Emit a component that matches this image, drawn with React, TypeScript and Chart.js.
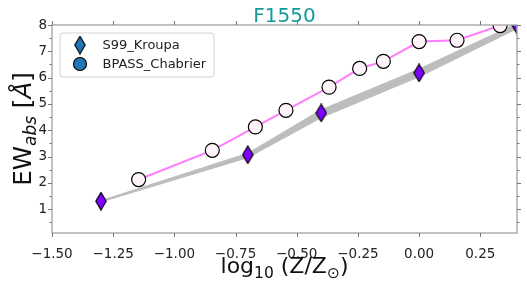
import React, { useEffect, useRef } from "react";
import { Chart, registerables } from "chart.js";

Chart.register(...registerables);

// ---- data ----
const xTicks = [-1.5, -1.25, -1.0, -0.75, -0.5, -0.25, 0.0, 0.25];
const yTicks = [1, 2, 3, 4, 5, 6, 7, 8];
const yMinorTicks = [0.5, 1.5, 2.5, 3.5, 4.5, 5.5, 6.5, 7.5];

const s99Z = [-1.3, -0.7, -0.4, 0.0, 0.4];
const s99EW = [1.31, 3.07, 4.66, 6.18, 8.0];
const s99Upper = [1.33, 3.13, 4.78, 6.33, 8.06];
const s99Lower = [1.28, 2.96, 4.48, 6.03, 7.86];

const bpassZ = [-1.146, -0.845, -0.669, -0.544, -0.368, -0.243, -0.146, 0.0, 0.155, 0.331];
const bpassEW = [2.13, 3.24, 4.13, 4.76, 5.64, 6.35, 6.62, 7.37, 7.42, 7.98];

const X_MIN = -1.5;
const X_MAX = 0.4;
const Y_MIN = 0.1;
const Y_MAX = 8.0;

const FONT = "'DejaVu Sans', sans-serif";

function makeDiamond(fill: string): HTMLCanvasElement {
  const w = 12;
  const h = 19;
  const c = document.createElement("canvas");
  c.width = w;
  c.height = h;
  const ctx = c.getContext("2d")!;
  ctx.beginPath();
  ctx.moveTo(w / 2, 0.8);
  ctx.lineTo(w - 0.8, h / 2);
  ctx.lineTo(w / 2, h - 0.8);
  ctx.lineTo(0.8, h / 2);
  ctx.closePath();
  ctx.fillStyle = fill;
  ctx.fill();
  ctx.lineWidth = 1.2;
  ctx.strokeStyle = "#000";
  ctx.stroke();
  return c;
}

type Seg = { t: string; size: number; dy: number; italic?: boolean };

function drawSegs(ctx: CanvasRenderingContext2D, segs: Seg[], cx: number, baseY: number, color: string) {
  let total = 0;
  const widths: number[] = [];
  for (const s of segs) {
    ctx.font = `${s.italic ? "italic " : ""}${s.size}px ${FONT}`;
    const w = ctx.measureText(s.t).width;
    widths.push(w);
    total += w;
  }
  let x = cx - total / 2;
  ctx.fillStyle = color;
  ctx.textBaseline = "alphabetic";
  ctx.textAlign = "left";
  segs.forEach((s, i) => {
    ctx.font = `${s.italic ? "italic " : ""}${s.size}px ${FONT}`;
    ctx.fillText(s.t, x, baseY + s.dy);
    x += widths[i];
  });
}

const overlayPlugin = {
  id: "overlay",
  afterDraw(chart: any) {
    const ctx: CanvasRenderingContext2D = chart.ctx;
    const { left, right, top, bottom } = chart.chartArea;
    const xs = chart.scales.x;
    const ys = chart.scales.y;
    ctx.save();

    // frame
    ctx.strokeStyle = "#a8a8a8";
    ctx.lineWidth = 1.4;
    ctx.strokeRect(left, top, right - left, bottom - top);

    // ticks
    ctx.strokeStyle = "#777";
    ctx.lineWidth = 1;
    ctx.beginPath();
    for (const v of xTicks) {
      const px = Math.round(xs.getPixelForValue(v)) + 0.5;
      ctx.moveTo(px, bottom);
      ctx.lineTo(px, bottom + 4);
      ctx.moveTo(px, top);
      ctx.lineTo(px, top - 4);
    }
    for (const v of yTicks) {
      const py = Math.round(ys.getPixelForValue(v)) + 0.5;
      ctx.moveTo(left, py);
      ctx.lineTo(left - 4, py);
      ctx.moveTo(right, py);
      ctx.lineTo(right + 4, py);
    }
    for (const v of yMinorTicks) {
      const py = Math.round(ys.getPixelForValue(v)) + 0.5;
      ctx.moveTo(left, py);
      ctx.lineTo(left - 2.5, py);
      ctx.moveTo(right, py);
      ctx.lineTo(right + 2.5, py);
    }
    ctx.stroke();

    // title
    ctx.font = `20px ${FONT}`;
    ctx.fillStyle = "#149a9a";
    ctx.textAlign = "center";
    ctx.textBaseline = "alphabetic";
    ctx.fillText("F1550", (left + right) / 2, 22);

    // x title
    drawSegs(
      ctx,
      [
        { t: "log", size: 22, dy: 0 },
        { t: "10", size: 15.5, dy: 5 },
        { t: " (Z/Z", size: 22, dy: 0 },
        { t: "\u2299", size: 15.5, dy: 5 },
        { t: ")", size: 22, dy: 0 },
      ],
      (left + right) / 2,
      273,
      "#111"
    );

    // y title (rotated)
    ctx.save();
    ctx.translate(31, (top + bottom) / 2);
    ctx.rotate(-Math.PI / 2);
    drawSegs(
      ctx,
      [
        { t: "EW", size: 24.5, dy: 0 },
        { t: "abs", size: 17, dy: 5, italic: true },
        { t: " [", size: 24.5, dy: 0 },
        { t: "\u00C5", size: 24.5, dy: 0, italic: true },
        { t: "]", size: 24.5, dy: 0 },
      ],
      0,
      0,
      "#111"
    );
    ctx.restore();

    // legend
    const lx = 60, ly = 33, lw = 154, lh = 44;
    ctx.beginPath();
    const r = 3;
    ctx.moveTo(lx + r, ly);
    ctx.lineTo(lx + lw - r, ly);
    ctx.arcTo(lx + lw, ly, lx + lw, ly + r, r);
    ctx.lineTo(lx + lw, ly + lh - r);
    ctx.arcTo(lx + lw, ly + lh, lx + lw - r, ly + lh, r);
    ctx.lineTo(lx + r, ly + lh);
    ctx.arcTo(lx, ly + lh, lx, ly + lh - r, r);
    ctx.lineTo(lx, ly + r);
    ctx.arcTo(lx, ly, lx + r, ly, r);
    ctx.closePath();
    ctx.fillStyle = "rgba(255,255,255,0.85)";
    ctx.fill();
    ctx.strokeStyle = "#d0d0d0";
    ctx.lineWidth = 1;
    ctx.stroke();

    const dm = makeDiamond("#1f77b4");
    ctx.drawImage(dm, 80 - dm.width / 2, 45 - dm.height / 2);
    ctx.beginPath();
    ctx.arc(80, 64, 6.5, 0, Math.PI * 2);
    ctx.fillStyle = "#1f77b4";
    ctx.fill();
    ctx.strokeStyle = "#000";
    ctx.lineWidth = 1.2;
    ctx.stroke();

    ctx.font = `13px ${FONT}`;
    ctx.fillStyle = "#222";
    ctx.textAlign = "left";
    ctx.textBaseline = "middle";
    ctx.fillText("S99_Kroupa", 102.5, 45.5);
    ctx.fillText("BPASS_Chabrier", 102.5, 64.5);

    ctx.restore();
  },
};

export default function App() {
  const ref = useRef<HTMLCanvasElement | null>(null);

  useEffect(() => {
    document.body.style.margin = "0";
    const canvas = ref.current;
    if (!canvas) return;
    const diamond = makeDiamond("#7f00ff");

    const chart = new Chart(canvas, {
      type: "line",
      data: {
        datasets: [
          {
            label: "band_lower",
            data: s99Z.map((x, i) => ({ x, y: s99Lower[i] })),
            borderColor: "#bdbdbd",
            borderWidth: 1,
            pointRadius: 0,
            fill: false,
            order: 5,
            clip: 0,
          },
          {
            label: "band_upper",
            data: s99Z.map((x, i) => ({ x, y: s99Upper[i] })),
            borderColor: "#bdbdbd",
            backgroundColor: "#bdbdbd",
            borderWidth: 1,
            pointRadius: 0,
            fill: "-1",
            order: 4,
            clip: 0,
          },
          {
            label: "BPASS_Chabrier",
            data: bpassZ.map((x, i) => ({ x, y: bpassEW[i] })),
            borderColor: "#ff7cff",
            borderWidth: 2,
            pointRadius: 7,
            pointBackgroundColor: "#fff4fa",
            pointBorderColor: "#000",
            pointBorderWidth: 1.2,
            fill: false,
            order: 2,
            clip: 0,
          },
          {
            label: "S99_Kroupa",
            data: s99Z.map((x, i) => ({ x, y: s99EW[i] })),
            showLine: false,
            pointStyle: diamond as any,
            pointRadius: 8,
            fill: false,
            order: 1,
            clip: 0,
          },
        ],
      },
      options: {
        animation: false,
        responsive: false,
        layout: { padding: { top: 25, right: 10, left: 0, bottom: 0 } },
        plugins: {
          legend: { display: false },
          tooltip: { enabled: false },
          title: { display: false },
        },
        scales: {
          x: {
            type: "linear",
            min: X_MIN,
            max: X_MAX,
            grid: { display: false, drawTicks: false },
            border: { display: false },
            ticks: {
              padding: 13,
              color: "#222",
              font: { family: FONT, size: 13.5 },
              maxRotation: 0,
              callback: (v: any) => {
                const n = Number(v);
                return (n < 0 ? "\u2212" : "") + Math.abs(n).toFixed(2);
              },
            },
            afterBuildTicks: (s: any) => {
              s.ticks = xTicks.map((v) => ({ value: v }));
            },
            afterFit: (s: any) => {
              s.height = 54;
            },
          },
          y: {
            type: "linear",
            min: Y_MIN,
            max: Y_MAX,
            grid: { display: false, drawTicks: false },
            border: { display: false },
            ticks: {
              padding: 5,
              color: "#222",
              font: { family: FONT, size: 13.5 },
              callback: (v: any) => String(v),
            },
            afterBuildTicks: (s: any) => {
              s.ticks = yTicks.map((v) => ({ value: v }));
            },
            afterFit: (s: any) => {
              s.width = 52;
            },
          },
        },
      },
      plugins: [overlayPlugin],
    });
    return () => chart.destroy();
  }, []);

  return (
    <div style={{ width: 527, height: 287 }}>
      <canvas ref={ref} width={527} height={287} style={{ display: "block" }} />
    </div>
  );
}
